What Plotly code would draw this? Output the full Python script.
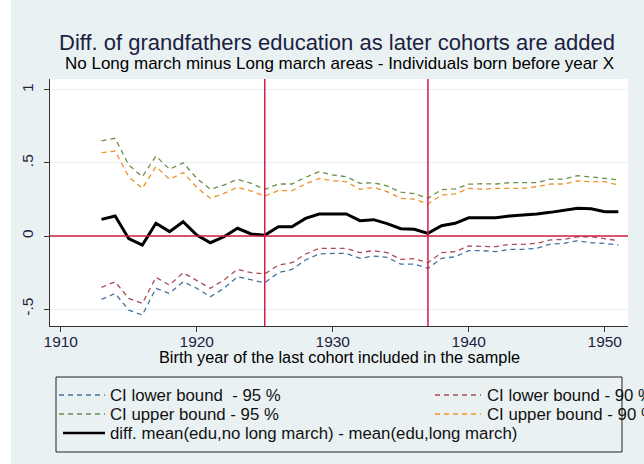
import plotly.graph_objects as go

years = list(range(1913, 1952))
diff_mean = [0.114, 0.137, -0.018, -0.062, 0.087, 0.030, 0.098, 0.007, -0.046, -0.005,
             0.053, 0.014, 0.005, 0.064, 0.064, 0.121, 0.151, 0.151, 0.151, 0.105,
             0.112, 0.085, 0.050, 0.046, 0.018, 0.070, 0.087, 0.125, 0.125, 0.125,
             0.137, 0.142, 0.151, 0.162, 0.174, 0.190, 0.187, 0.167, 0.167]
upper95 = [0.651, 0.669, 0.486, 0.406, 0.548, 0.457, 0.502, 0.395, 0.320, 0.349,
           0.388, 0.361, 0.320, 0.356, 0.356, 0.402, 0.440, 0.418, 0.406, 0.361,
           0.365, 0.343, 0.300, 0.290, 0.258, 0.318, 0.323, 0.355, 0.358, 0.356,
           0.365, 0.365, 0.365, 0.390, 0.390, 0.413, 0.406, 0.395, 0.384]
upper90 = [0.571, 0.582, 0.406, 0.326, 0.475, 0.388, 0.434, 0.333, 0.258, 0.292,
           0.333, 0.308, 0.274, 0.311, 0.311, 0.356, 0.395, 0.378, 0.372, 0.320,
           0.333, 0.304, 0.258, 0.253, 0.219, 0.281, 0.288, 0.326, 0.320, 0.326,
           0.326, 0.326, 0.338, 0.356, 0.356, 0.377, 0.372, 0.372, 0.349]
lower90 = [-0.352, -0.313, -0.427, -0.461, -0.283, -0.336, -0.251, -0.306, -0.358, -0.301,
           -0.228, -0.251, -0.260, -0.199, -0.183, -0.123, -0.084, -0.084, -0.084, -0.114,
           -0.100, -0.114, -0.160, -0.155, -0.183, -0.114, -0.107, -0.068, -0.068, -0.073,
           -0.057, -0.057, -0.050, -0.027, -0.023, -0.005, -0.005, -0.016, -0.032]
lower95 = [-0.434, -0.393, -0.507, -0.541, -0.358, -0.393, -0.313, -0.358, -0.416, -0.358,
           -0.279, -0.301, -0.320, -0.251, -0.228, -0.164, -0.123, -0.119, -0.119, -0.153,
           -0.137, -0.146, -0.192, -0.192, -0.221, -0.153, -0.142, -0.100, -0.100, -0.107,
           -0.091, -0.091, -0.084, -0.055, -0.050, -0.032, -0.046, -0.050, -0.062]

x_ticks = [1910, 1920, 1930, 1940, 1950]
y_ticks = [-0.5, 0, 0.5, 1]
y_ticktext = ["-.5", "0", ".5", "1"]
ref_years = [1925, 1937]

title = "Diff. of grandfathers education as later cohorts are added"
subtitle = "No Long march minus Long march areas - Individuals born before year X"
x_title = "Birth year of the last cohort included in the sample"

series = [
    ("CI lower bound  - 95 %", lower95, "#46709c", 1.3, "5px,4px"),
    ("CI lower bound - 90 %", lower90, "#aa4a5a", 1.3, "5px,4px"),
    ("CI upper bound - 95 %", upper95, "#6a9048", 1.3, "5px,4px"),
    ("CI upper bound - 90 %", upper90, "#f09228", 1.3, "5px,4px"),
    ("diff. mean(edu,no long march) - mean(edu,long march)", diff_mean, "#000000", 3, "solid"),
]

W, H = 644, 464
L, R, T, B = 50, 16, 79, 138
PW, PH = W - L - R, H - T - B


def px(x):
    return (x - L) / PW


def py(y):
    return (H - B - y) / PH


BG = "#eaf1f3"
RED = "#d31d45"
TXT = "#1c2142"
FONT = "Liberation Sans, Arial, sans-serif"

fig = go.Figure()
for name, vals, color, width, dash in series:
    fig.add_trace(go.Scatter(x=years, y=vals, mode="lines", name=name,
                             line=dict(color=color, width=width, dash=dash),
                             showlegend=False))

shapes = []
shapes.append(dict(type="line", xref="paper", yref="y", x0=0, x1=1, y0=0, y1=0,
                   line=dict(color=RED, width=1.5), layer="above"))
for ry in ref_years:
    shapes.append(dict(type="line", xref="x", yref="paper", x0=ry, x1=ry, y0=0, y1=1,
                       line=dict(color=RED, width=1.5), layer="above"))
shapes.append(dict(type="rect", xref="paper", yref="paper", x0=px(0), x1=px(11),
                   y0=py(H), y1=py(0), fillcolor="white", line=dict(width=0), layer="below"))
lx0, lx1, ly0, ly1 = 56, 622, 377, 452
shapes.append(dict(type="rect", xref="paper", yref="paper", x0=px(lx0), x1=px(lx1),
                   y0=py(ly1), y1=py(ly0), line=dict(color="#222222", width=1),
                   fillcolor=BG, layer="below"))

annotations = []
leg_pos = [(59, 105, 108, 395), (435, 481, 485, 395), (59, 105, 108, 414),
           (435, 481, 485, 414), (63, 105, 108, 433)]
for (name, vals, color, width, dash), (sx0, sx1, tx, ty) in zip(series, leg_pos):
    shapes.append(dict(type="line", xref="paper", yref="paper", x0=px(sx0), x1=px(sx1),
                       y0=py(ty), y1=py(ty),
                       line=dict(color=color, width=(2.5 if width > 2 else 1.3),
                                 dash=dash)))
    annotations.append(dict(xref="paper", yref="paper", x=px(tx), y=py(ty), text=name,
                            showarrow=False, xanchor="left", yanchor="middle",
                            font=dict(family=FONT, size=16.8, color="#111111")))

annotations.append(dict(xref="paper", yref="paper", x=px(337), y=py(42), text=title,
                        showarrow=False, xanchor="center", yanchor="middle",
                        font=dict(family=FONT, size=22, color=TXT)))
annotations.append(dict(xref="paper", yref="paper", x=px(339), y=py(63), text=subtitle,
                        showarrow=False, xanchor="center", yanchor="middle",
                        font=dict(family=FONT, size=17, color="#000000")))
annotations.append(dict(xref="paper", yref="paper", x=px(339), y=py(357), text=x_title,
                        showarrow=False, xanchor="center", yanchor="middle",
                        font=dict(family=FONT, size=16.3, color="#000000")))

fig.update_layout(
    width=W, height=H,
    margin=dict(l=L, r=R, t=T, b=B, pad=0),
    paper_bgcolor=BG, plot_bgcolor="white",
    shapes=shapes, annotations=annotations,
    xaxis=dict(range=[1909.21, 1951.71], tickvals=x_ticks, ticks="outside", ticklen=5,
               tickcolor="#333333", showgrid=False, zeroline=False, showline=True,
               linecolor="#333333", linewidth=1, ticklabelstandoff=-4,
               tickfont=dict(family=FONT, size=15.5, color=TXT)),
    yaxis=dict(range=[-0.616, 1.075], tickvals=y_ticks, ticktext=y_ticktext,
               ticks="outside", ticklen=5, tickcolor="#333333", tickangle=-90,
               showgrid=True, gridcolor="#e9eff2", gridwidth=1, zeroline=False,
               showline=True, linecolor="#333333", linewidth=1, ticklabelstandoff=5,
               tickfont=dict(family=FONT, size=15.5, color=TXT)),
)

fig.write_html("out.html", config={"displayModeBar": False},
               post_script="document.body.style.margin='0';document.body.style.overflow='hidden';")
